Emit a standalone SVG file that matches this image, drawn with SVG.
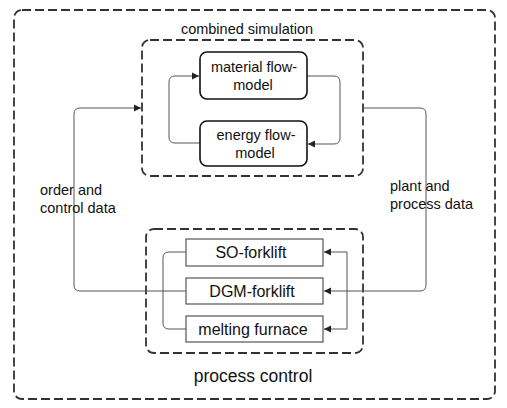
<svg xmlns="http://www.w3.org/2000/svg" width="507" height="408" viewBox="0 0 507 408">
<defs>
<marker id="arr" markerWidth="8" markerHeight="8" refX="7" refY="4" orient="auto" markerUnits="userSpaceOnUse">
<path d="M0,0.5 L7,4 L0,7.5 Z" fill="#222"/>
</marker>
<style>
text{font-family:"Liberation Sans",Arial,sans-serif;fill:#111;text-anchor:middle}
.dash{fill:none;stroke:#333;stroke-width:1.8;stroke-dasharray:9 4}
.rbox{fill:#fff;stroke:#111;stroke-width:1.6}
.sbox{fill:#fff;stroke:#555;stroke-width:1.2}
.con{fill:none;stroke:#555;stroke-width:1}
</style>
</defs>
<rect width="507" height="408" fill="#fff"/>
<g id="process-control-outer">
<rect class="dash" x="14" y="10" width="481" height="389" rx="8"/>
<text x="253" y="382" font-size="17.5">process control</text>
</g>
<g id="combined-simulation">
<rect class="dash" x="142" y="40" width="221" height="136" rx="8"/>
<text x="247" y="34" font-size="14.5">combined simulation</text>
</g>
<g id="process-group">
<rect class="dash" x="146" y="229" width="217" height="124" rx="8"/>
</g>
<g id="connectors">
<path class="con" d="M200,143 H175 Q169,143 169,137 V82 Q169,76 175,76 H199" marker-end="url(#arr)"/>
<path class="con" d="M307,76 H334 Q340,76 340,82 V138 Q340,144 334,144 H308" marker-end="url(#arr)"/>
<path class="con" d="M186,291 H80 Q74,291 74,285 V114 Q74,108 80,108 H141" marker-end="url(#arr)"/>
<path class="con" d="M363,108 H420 Q426,108 426,114 V285 Q426,291 420,291 H324" marker-end="url(#arr)"/>
<path class="con" d="M186,252 H169 Q163,252 163,258 V323 Q163,329 169,329 H186"/>
<path class="con" d="M347,252 V329"/>
<path class="con" d="M347,252 H324" marker-end="url(#arr)"/>
<path class="con" d="M347,329 H324" marker-end="url(#arr)"/>
</g>
<g id="material-flow-model">
<rect class="rbox" x="200" y="52" width="107" height="47" rx="7"/>
<text x="254" y="72" font-size="14.5">material flow-</text>
<text x="253" y="90" font-size="14.5">model</text>
</g>
<g id="energy-flow-model">
<rect class="rbox" x="200" y="121" width="107" height="45" rx="7"/>
<text x="256" y="140" font-size="14.5">energy flow-</text>
<text x="255" y="158" font-size="14.5">model</text>
</g>
<g id="so-forklift">
<rect class="sbox" x="186" y="239" width="137" height="27"/>
<text x="251" y="258" font-size="16">SO-forklift</text>
</g>
<g id="dgm-forklift">
<rect class="sbox" x="186" y="278" width="137" height="26"/>
<text x="252" y="297" font-size="16">DGM-forklift</text>
</g>
<g id="melting-furnace">
<rect class="sbox" x="186" y="316" width="137" height="26"/>
<text x="253" y="335" font-size="16">melting furnace</text>
</g>
<g id="labels">
<text x="40" y="195" font-size="14.5" style="text-anchor:start">order and</text>
<text x="40" y="213" font-size="14.5" style="text-anchor:start">control data</text>
<text x="390" y="191" font-size="14.5" style="text-anchor:start">plant and</text>
<text x="390" y="209" font-size="14.5" style="text-anchor:start">process data</text>
</g>
</svg>
